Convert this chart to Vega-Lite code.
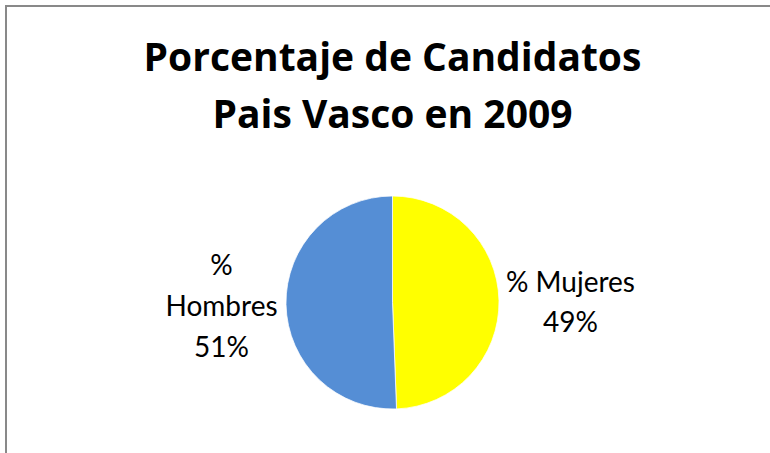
{
  "$schema": "https://vega.github.io/schema/vega-lite/v6.json",
  "autosize": {"type": "none"},
  "width": 773,
  "height": 593,
  "padding": {"left": 6, "top": 6, "right": 0, "bottom": 0},
  "background": "white",
  "view": {"stroke": "#898989", "strokeWidth": 2, "fill": "white"},
  "config": {"view": {"stroke": "#898989", "strokeWidth": 2}, "font": "Lato"},
  "title": {
    "text": ["Porcentaje de Candidatos", "Pais Vasco en 2009"],
    "orient": "top",
    "anchor": "middle",
    "baseline": "top",
    "offset": -130,
    "fontSize": 39,
    "font": "Open Sans",
    "fontWeight": "bold",
    "color": "#000000",
    "lineHeight": 57
  },
  "data": {
    "values": [
      {"sexo": "% Mujeres", "porcentaje": 49.4, "etiqueta": "% Mujeres\n49%"},
      {"sexo": "% Hombres", "porcentaje": 50.6, "etiqueta": "%\nHombres\n51%"}
    ]
  },
  "encoding": {
    "theta": {"field": "porcentaje", "type": "quantitative", "stack": true},
    "order": {"field": "porcentaje", "type": "quantitative", "sort": "ascending"}
  },
  "layer": [
    {
      "mark": {"type": "arc", "radius": 106.5, "stroke": "#ffffff", "strokeWidth": 0.75},
      "encoding": {
        "color": {
          "field": "sexo",
          "type": "nominal",
          "scale": {"domain": ["% Mujeres", "% Hombres"], "range": ["#FFFF00", "#558ED5"]},
          "legend": null
        }
      }
    },
    {
      "mark": {"type": "text", "radius": 178, "fontSize": 28, "lineHeight": 40, "lineBreak": "\n", "align": "center", "baseline": "middle", "dy": -15, "color": "#000000"},
      "encoding": {
        "text": {"condition": {"test": "datum.sexo === '% Mujeres'", "field": "etiqueta"}, "value": ""}
      }
    },
    {
      "mark": {"type": "text", "radius": 171, "fontSize": 28, "lineHeight": 41, "lineBreak": "\n", "align": "center", "baseline": "middle", "dy": -39, "color": "#000000"},
      "encoding": {
        "text": {"condition": {"test": "datum.sexo === '% Hombres'", "field": "etiqueta"}, "value": ""}
      }
    }
  ]
}
